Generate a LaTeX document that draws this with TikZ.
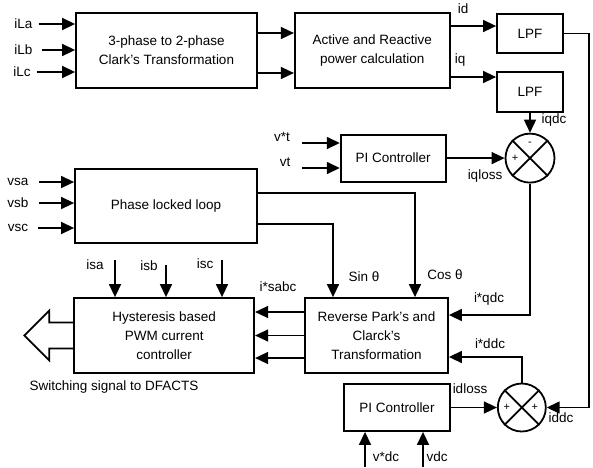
\documentclass[tikz,border=0pt]{standalone}
\usepackage{fontspec}
\setmainfont{Liberation Sans}
\usetikzlibrary{arrows.meta,positioning,shapes.geometric}

\begin{document}
\begin{tikzpicture}[x=1pt,y=-1pt,font=\fontsize{13.5}{19}\selectfont]
    \tikzstyle{blk} = [rectangle, draw, line width=1.8pt, inner sep=0pt, align=center]
    \tikzstyle{sum} = [circle, draw, line width=1.8pt, minimum size=49pt, inner sep=0pt]
    \tikzstyle{arrow} = [line width=1.5pt, -{Triangle[length=13pt,width=12pt]}]
    \tikzstyle{lbl} = [inner sep=0pt]
    \tikzstyle{sgn} = [inner sep=0pt, font=\fontsize{11}{13}\selectfont]
    \useasboundingbox (0,0) rectangle (593,467);
        % blocks
        \node (clark) [blk, minimum width=181pt, minimum height=75pt] at (166.5,50.5) {3-phase to 2-phase\\Clark’s Transformation};
        \node (active) [blk, minimum width=155pt, minimum height=75pt, right=36pt of clark] {Active and Reactive\\power calculation};
        \node (lpf1) [blk, minimum width=66pt, minimum height=39pt] at (530,33.5) {LPF};
        \node (lpf2) [blk, minimum width=66pt, minimum height=40pt, below=17pt of lpf1] {LPF};
        \node (sum1) [sum, below=20pt of lpf2] {};
        \node (pi1) [blk, minimum width=105pt, minimum height=47pt, left=58pt of sum1] {PI Controller};
        \node (pll) [blk, minimum width=182pt, minimum height=74pt] at (166,206) {Phase locked loop};
        \node (rev) [blk, minimum width=143pt, minimum height=75pt] at (376.5,335.5) {Reverse Park’s and\\Clarck’s\\Transformation};
        \node (hyst) [blk, minimum width=180pt, minimum height=75pt, left=49pt of rev] {Hysteresis based\\PWM current\\controller};
        \node (pi2) [blk, minimum width=106pt, minimum height=47pt] at (397,407.5) {PI Controller};
        \node (sum2) [sum, minimum size=48pt, right=46pt of pi2] {};
        % summing junctions
        \draw[line width=1.8pt] (sum1.north west) -- (sum1.south east) (sum1.north east) -- (sum1.south west);
        \draw[line width=1.8pt] (sum2.north west) -- (sum2.south east) (sum2.north east) -- (sum2.south west);
        \node (s1m) [sgn] at ([yshift=14pt]sum1.center) {-};
        \node (s1p) [sgn] at ([xshift=-15pt]sum1.center) {+};
        \node (s2a) [sgn] at ([xshift=-15pt]sum2.center) {+};
        \node (s2b) [sgn] at ([xshift=13pt]sum2.center) {+};
        % load currents
        \node (iLa) [lbl] at (23.5,24) {iLa};
        \node (iLb) [lbl] at (23.5,50) {iLb};
        \node (iLc) [lbl] at (22,72) {iLc};
        \draw[arrow] ([xshift=6pt]iLa.east) -- (iLa -| clark.west);
        \draw[arrow] ([xshift=9pt]iLb.east) -- (iLb -| clark.west);
        \draw[arrow] ([xshift=6pt]iLc.east) -- (iLc -| clark.west);
        \draw[arrow] ([yshift=17.5pt]clark.east) -- ([yshift=17.5pt]clark.east -| active.west);
        \draw[arrow] ([yshift=-22.5pt]clark.east) -- ([yshift=-22.5pt]clark.east -| active.west);
        \draw[arrow] ([yshift=24.5pt]active.east) -- ([yshift=24.5pt]active.east -| lpf1.west);
        \draw[arrow] ([yshift=-26.5pt]active.east) -- ([yshift=-26.5pt]active.east -| lpf2.west);
        \node (id) [lbl] at (463,9) {id};
        \node (iq) [lbl] at (460,60) {iq};
        % dc loops
        \draw[arrow] (lpf1.east) -- ++(25,0) |- (sum2.east);
        \draw[arrow] (lpf2) -- (sum1);
        \draw[arrow] (pi1) -- (sum1);
        \draw[arrow] (sum1.south) |- ([yshift=20.5pt]rev.east);
        \draw[arrow] (sum2.north) |- ([yshift=-21.5pt]rev.east);
        \draw[arrow] (pi2) -- (sum2);
        \node (iqdc) [lbl] at (554,120) {iqdc};
        \node (iqloss) [lbl] at (485,176) {iqloss};
        \node (iqref) [lbl] at (489,299) {i*qdc};
        \node (idref) [lbl] at (490,344) {i*ddc};
        \node (idloss) [lbl] at (470,389) {idloss};
        \node (iddc) [lbl] at (561,418) {iddc};
        % voltage references
        \coordinate (vtrefin) at (302,143);
        \coordinate (vtin) at (302,168);
        \draw[arrow] (vtrefin) -- (vtrefin -| pi1.west);
        \draw[arrow] (vtin) -- (vtin -| pi1.west);
        \node (vtref) [lbl] at (282,137) {v*t};
        \node (vt) [lbl] at (285,162) {vt};
        \coordinate (vdcrefin) at (365,467);
        \coordinate (vdcin) at (423,467);
        \draw[arrow] (vdcrefin) -- (vdcrefin |- pi2.south);
        \draw[arrow] (vdcin) -- (vdcin |- pi2.south);
        \node (vdcref) [lbl] at (386,457) {v*dc};
        \node (vdc) [lbl] at (437,457) {vdc};
        % phase locked loop
        \node (vsa) [lbl] at (18,182) {vsa};
        \node (vsb) [lbl] at (18,203) {vsb};
        \node (vsc) [lbl] at (18,228) {vsc};
        \draw[arrow] ([xshift=10pt]vsa.east) -- (vsa -| pll.west);
        \draw[arrow] ([xshift=10pt]vsb.east) -- (vsb -| pll.west);
        \draw[arrow] ([xshift=10pt]vsc.east) -- (vsc -| pll.west);
        \draw[arrow] ([yshift=13pt]pll.east) -| ([xshift=38.5pt]rev.north);
        \draw[arrow] ([yshift=-18pt]pll.east) -| ([xshift=-43.5pt]rev.north);
        \node (sin) [lbl] at (364,277) {Sin θ};
        \node (cos) [lbl] at (445,275) {Cos θ};
        % reference currents to hysteresis controller
        \draw[arrow] ([yshift=23.5pt]rev.west) -- ([yshift=23.5pt]rev.west -| hyst.east);
        \draw[arrow] (rev.west) -- (hyst.east);
        \draw[arrow] ([yshift=-22.5pt]rev.west) -- ([yshift=-22.5pt]rev.west -| hyst.east);
        \node (isabc) [lbl] at (278,287) {i*sabc};
        \coordinate (isain) at (115,260);
        \coordinate (isbin) at (166,265);
        \coordinate (iscin) at (222,260);
        \draw[arrow] (isain) -- (isain |- hyst.north);
        \draw[arrow] (isbin) -- (isbin |- hyst.north);
        \draw[arrow] (iscin) -- (iscin |- hyst.north);
        \node (isa) [lbl] at (95,265) {isa};
        \node (isb) [lbl] at (149,266) {isb};
        \node (isc) [lbl] at (205,264) {isc};
        % switching signal
        \draw[line width=1.8pt] ([yshift=13pt]hyst.west) -- ++(-24,0) -- ++(0,-12) -- ++(-25,25) -- ++(25,25) -- ++(0,-12) -- ([yshift=-13pt]hyst.west);
        \node (sw) [lbl] at (114,387) {Switching signal to DFACTS};
    \end{tikzpicture}
\end{document}
